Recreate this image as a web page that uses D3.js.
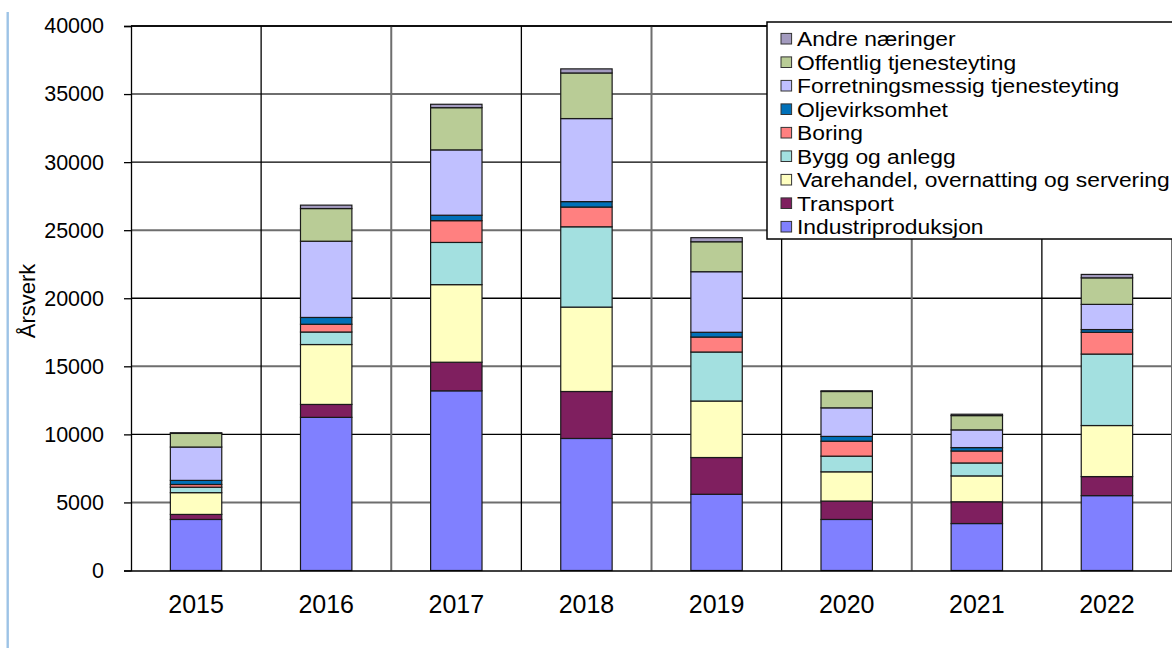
<!DOCTYPE html>
<html>
<head>
<meta charset="utf-8">
<script src="https://cdn.jsdelivr.net/npm/d3@7"></script>
<style>
  html, body { margin: 0; padding: 0; background: #fff; }
  svg { display: block; font-family: "Liberation Sans", Arial, sans-serif; }
</style>
</head>
<body>
<svg id="chart" width="1172" height="648"></svg>
<script>
// Årsverk per næring og år
const years = ["2015", "2016", "2017", "2018", "2019", "2020", "2021", "2022"];
const industri    = [3750, 11250, 13200, 9700, 5600, 3750, 3450, 5500];
const transport   = [370, 950, 2100, 3450, 2700, 1350, 1600, 1400];
const varehandel  = [1600, 4400, 5700, 6200, 4150, 2150, 1900, 3750];
const bygg        = [400, 920, 3100, 5900, 3600, 1150, 950, 5250];
const boring      = [200, 570, 1600, 1450, 1100, 1100, 880, 1600];
const olje        = [300, 500, 400, 400, 350, 350, 250, 200];
const forretning  = [2450, 5600, 4800, 6100, 4450, 2100, 1300, 1850];
const offentlig   = [1000, 2400, 3100, 3350, 2200, 1200, 1050, 1950];
const andre       = [50, 250, 250, 300, 300, 50, 100, 250];
const yTicks = [0, 5000, 10000, 15000, 20000, 25000, 30000, 35000, 40000];

// series, bottom to top of each stack
const seriesNames = [
  "Industriproduksjon", "Transport", "Varehandel, overnatting og servering",
  "Bygg og anlegg", "Boring", "Oljevirksomhet",
  "Forretningsmessig tjenesteyting", "Offentlig tjenesteyting", "Andre næringer"
];
const seriesValues = [industri, transport, varehandel, bygg, boring, olje, forretning, offentlig, andre];
const colors = ["#8080ff", "#7f1f5f", "#ffffc0", "#a3e0e0", "#ff8080", "#0070b8", "#c0c0ff", "#b9cc96", "#a39bbf"];

const rows = years.map((yr, i) => {
  const r = { year: yr };
  seriesNames.forEach((n, s) => { r[n] = seriesValues[s][i]; });
  return r;
});
const stacked = d3.stack().keys(seriesNames)(rows);

const svg = d3.select("#chart");
const plotLeft = 131, plotRight = 1172, plotTop = 26, plotBottom = 570.5;

const x = d3.scaleBand().domain(years).range([plotLeft, plotRight]).paddingInner(0).paddingOuter(0);
const y = d3.scaleLinear().domain([0, 40000]).range([plotBottom, plotTop]);
const barW = x.bandwidth() * 0.395;

// thin blue rule at the left margin
svg.append("line")
  .attr("x1", 7.7).attr("x2", 7.7).attr("y1", 12).attr("y2", 648)
  .attr("stroke", "#9dc3e6").attr("stroke-width", 2.4);

// horizontal gridlines
svg.append("g").selectAll("line")
  .data(yTicks.filter(v => v > 0))
  .join("line")
  .attr("x1", plotLeft).attr("x2", plotRight)
  .attr("y1", d => y(d)).attr("y2", d => y(d))
  .attr("stroke", (d, i) => i % 2 === 0 ? "#6e6e6e" : "#000")
  .attr("stroke-width", (d, i) => i % 2 === 0 ? 2 : 1.3);

// vertical gridlines at category boundaries
const bounds = years.slice(1).map(yr => x(yr)).concat([plotRight]);
svg.append("g").selectAll("line")
  .data(bounds)
  .join("line")
  .attr("x1", d => d).attr("x2", d => d)
  .attr("y1", plotTop).attr("y2", plotBottom)
  .attr("stroke", (d, i) => i % 2 === 0 ? "#000" : "#6e6e6e")
  .attr("stroke-width", (d, i) => i % 2 === 0 ? 1.3 : 2);

// stacked bars
svg.append("g").selectAll("g")
  .data(stacked)
  .join("g")
  .attr("fill", (d, i) => colors[i])
  .selectAll("rect")
  .data(d => d)
  .join("rect")
  .attr("x", d => x(d.data.year) + (x.bandwidth() - barW) / 2)
  .attr("y", d => y(d[1]))
  .attr("width", barW)
  .attr("height", d => y(d[0]) - y(d[1]))
  .attr("stroke", "#1a1a1a")
  .attr("stroke-width", 1.2);

// y axis
const yAxis = svg.append("g")
  .attr("transform", `translate(${plotLeft},0)`)
  .call(d3.axisLeft(y).tickValues(yTicks).tickFormat(d3.format("d")).tickSize(7).tickPadding(20));
yAxis.select(".domain").attr("stroke", "#000").attr("stroke-width", 1.3);
yAxis.selectAll(".tick line").attr("stroke", "#000").attr("stroke-width", 1.3);
yAxis.selectAll("text").attr("font-size", 21.5).attr("fill", "#000")
  .attr("font-family", "'Liberation Sans', Arial, sans-serif");

// x axis
const xAxis = svg.append("g")
  .attr("transform", `translate(0,${plotBottom})`)
  .call(d3.axisBottom(x).tickSize(0).tickPadding(25));
xAxis.select(".domain").attr("stroke", "#000").attr("stroke-width", 1.5);
xAxis.selectAll("text").attr("font-size", 25).attr("fill", "#000")
  .attr("font-family", "'Liberation Sans', Arial, sans-serif");

// top frame line
svg.append("line")
  .attr("x1", plotLeft).attr("x2", plotRight).attr("y1", plotTop).attr("y2", plotTop)
  .attr("stroke", "#000").attr("stroke-width", 1.3);

// y axis title
svg.append("text")
  .attr("transform", "translate(35,301) rotate(-90)")
  .attr("text-anchor", "middle")
  .attr("font-size", 22)
  .attr("fill", "#000")
  .text("Årsverk");

// legend
const lg = svg.append("g");
lg.append("rect")
  .attr("x", 767).attr("y", 22).attr("width", 420).attr("height", 217)
  .attr("fill", "#fff").attr("stroke", "#000").attr("stroke-width", 1.5);
const legendOrder = seriesNames.map((n, i) => ({ name: n, color: colors[i] })).reverse();
const rowY = i => 38.7 + i * 23.5;
lg.selectAll("rect.sw")
  .data(legendOrder)
  .join("rect")
  .attr("class", "sw")
  .attr("x", 781).attr("y", (d, i) => rowY(i) - 5.3)
  .attr("width", 10.6).attr("height", 10.6)
  .attr("fill", d => d.color)
  .attr("stroke", "#333").attr("stroke-width", 1);
lg.selectAll("g.lbl")
  .data(legendOrder)
  .join("g")
  .attr("class", "lbl")
  .attr("transform", (d, i) => `translate(797,${rowY(i) + 7.3}) scale(1.12,1)`)
  .append("text")
  .attr("font-size", 20.4)
  .attr("fill", "#000")
  .text(d => d.name);
</script>
</body>
</html>
